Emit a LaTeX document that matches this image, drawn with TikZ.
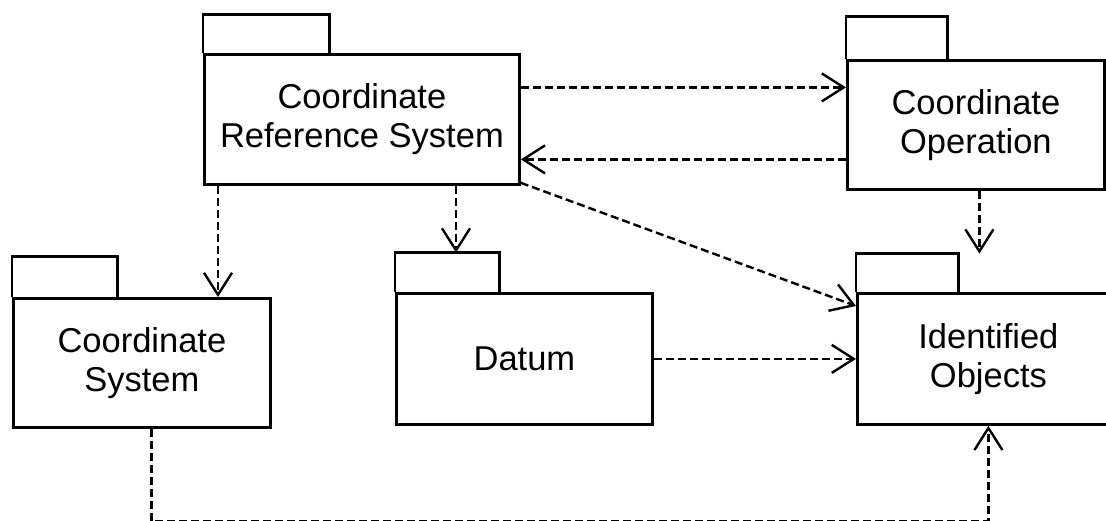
\documentclass[tikz,border=0pt]{standalone}
\usepackage{fontspec}
\setmainfont{Liberation Sans}
\usetikzlibrary{arrows.meta,calc}
\tikzset{
  pkgbody/.style={draw, line width=2.8pt, anchor=north west, align=center, inner sep=0pt,
    font=\fontsize{34.5}{39}\selectfont},
  pkgtab/.style={anchor=south west, inner sep=0pt},
  tabline/.style={line width=2.8pt},
  dep/.style={line width=2.4pt, dash pattern=on 8pt off 4pt,
    -{Straight Barb[length=22pt,width=28pt,line width=2.4pt]}}
}
\begin{document}
\begin{tikzpicture}[x=1pt,y=-1pt]
\useasboundingbox (0,0) rectangle (1106,520);
% Coordinate Reference System
\node[pkgbody, minimum width=315pt, minimum height=130pt] (crs) at (203,53) {Coordinate\\Reference System};
\node[pkgtab, minimum width=126pt, minimum height=38pt] (crst) at (crs.north west) {};
% Coordinate Operation
\node[pkgbody, minimum width=257pt, minimum height=129pt] (co) at (846,59) {Coordinate\\Operation};
\node[pkgtab, minimum width=101pt, minimum height=42pt] (cot) at (co.north west) {};
% Coordinate System
\node[pkgbody, minimum width=257pt, minimum height=129pt] (cs) at (12,297) {Coordinate\\System};
\node[pkgtab, minimum width=105pt, minimum height=40pt] (cst) at (cs.north west) {};
% Datum
\node[pkgbody, minimum width=256pt, minimum height=131pt] (dat) at (395,292) {Datum};
\node[pkgtab, minimum width=104pt, minimum height=39pt] (datt) at (dat.north west) {};
% Identified Objects
\node[pkgbody, minimum width=262pt, minimum height=131pt] (io) at (856,292) {Identified\\Objects};
\node[pkgtab, minimum width=102pt, minimum height=38pt] (iot) at (io.north west) {};
% tabs (three sides)
\foreach \t in {crst,cot,cst,datt,iot}
  \draw[tabline] (\t.south west) |- (\t.north east) -- (\t.south east);
% dependencies
\draw[dep] ([yshift=32pt]crs.east) -- ([yshift=32pt]crs.east -| co.west);
\draw[dep] ([yshift=-34.5pt]co.west) -- ([yshift=-34.5pt]co.west -| crs.east);
\draw[dep] ([yshift=3pt]crs.south east) -- ([yshift=-14pt]io.north west);
\draw[dep] ([xshift=3.5pt]co.south) -- ([xshift=3.5pt]co.south |- iot.north);
\draw[dep] ([xshift=15pt]crs.south west) -- ([xshift=15pt]crs.south west |- cs.north);
\draw[dep] ([xshift=253pt]crs.south west) -- ([xshift=253pt]crs.south west |- datt.north);
\draw[dep] (dat.east) -- (dat.east -| io.west);
\draw[dep] ([xshift=9.5pt]cs.south) -- ++(0,92) -| (io.south);
\end{tikzpicture}
\end{document}
